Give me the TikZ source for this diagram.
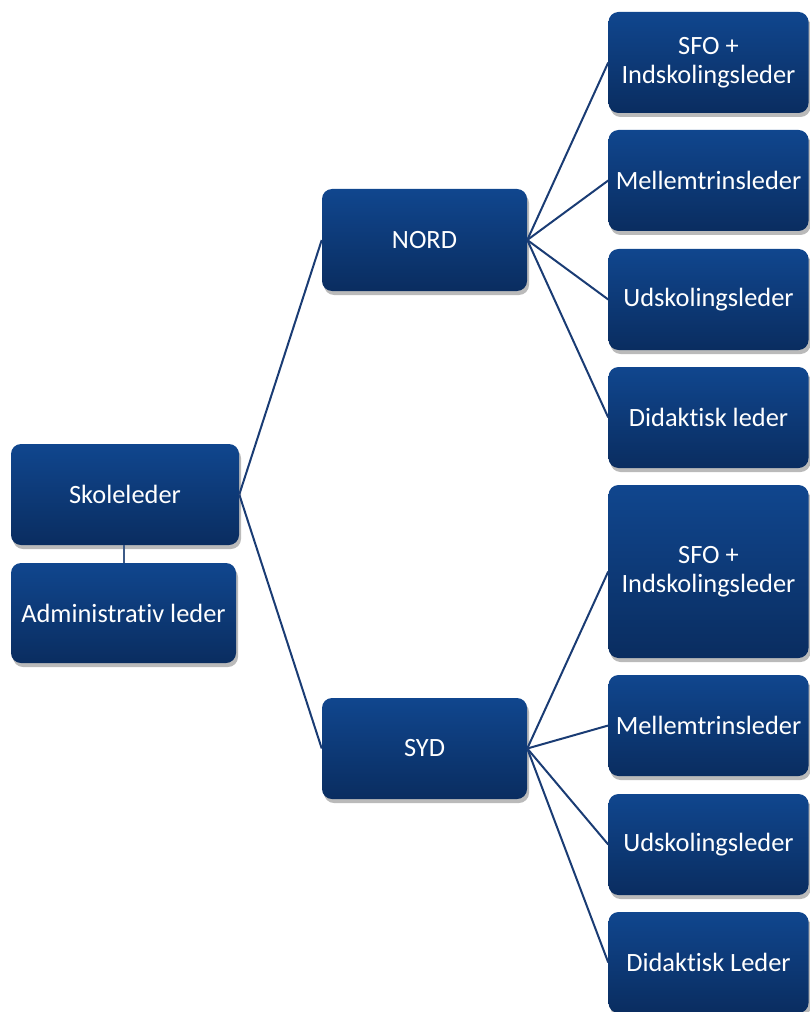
\documentclass[tikz,border=0pt]{standalone}
\usepackage{fontspec}
\setmainfont{Carlito}[RawFeature={-liga}]
\usepackage{xcolor}
\usepackage{tikz}
\usetikzlibrary{shadows,positioning,calc}

\definecolor{boxtop}{RGB}{16,70,142}
\definecolor{boxbot}{RGB}{10,45,96}
\definecolor{linkcol}{RGB}{26,60,116}
\definecolor{staffcol}{RGB}{60,90,135}

\tikzset{
    orgbox/.style={rounded corners=7.5pt, top color=boxtop, bottom color=boxbot,
        text=white, align=center, inner sep=2pt,
        font=\fontsize{19.8}{21.5}\selectfont,
        drop shadow={shadow xshift=1.5pt, shadow yshift=-3pt, fill=black!45, opacity=0.6}},
    leadbox/.style={orgbox, minimum width=150pt, minimum height=75.75pt},
    link/.style={linkcol, line width=1.5pt}
}

\begin{document}
\begin{tikzpicture}[x=0.75pt, y=-0.75pt]
        \useasboundingbox (0,0) rectangle (809,1012);

        % Top level
        \node[orgbox, minimum width=171pt, minimum height=75.75pt] (skole) at (125,494.5) {Skoleleder};
        \node[orgbox, minimum width=168.75pt, minimum height=75pt] (admin) at (123.5,613) {Administrativ leder};
        \draw[link, staffcol] (skole.south -| admin.north) -- (admin.north); % Staff link

        % Departments
        \node[orgbox, minimum width=153.75pt, minimum height=76.5pt] (nord) at (424.5,240) {NORD};
        \node[orgbox, minimum width=153.75pt, minimum height=75.75pt] (syd) at (424.5,748.5) {SYD};

        % NORD leaders
        \node[leadbox] (nsfo) at (708.5,62.5) {SFO +\\Indskolingsleder};
        \node[leadbox] (nmel) at (708.5,180.5) {Mellemtrinsleder};
        \node[leadbox] (nuds) at (708.5,299.5) {Udskolingsleder};
        \node[leadbox] (ndid) at (708.5,417.5) {Didaktisk leder};

        % SYD leaders
        \node[leadbox, minimum height=129.75pt] (ssfo) at (708.5,571.5) {SFO +\\Indskolingsleder};
        \node[leadbox] (smel) at (708.5,725.5) {Mellemtrinsleder};
        \node[leadbox] (suds) at (708.5,844.5) {Udskolingsleder};
        \node[leadbox] (sdid) at (708.5,962.5) {Didaktisk Leder};

        % Connectors
        \draw[link] (skole.east) -- (nord.west);
        \draw[link] (skole.east) -- (syd.west);
        \foreach \leader in {nsfo,nmel,nuds,ndid}
            \draw[link] (nord.east) -- (\leader.west);
        \foreach \leader in {ssfo,smel,suds,sdid}
            \draw[link] (syd.east) -- (\leader.west);
    \end{tikzpicture}
\end{document}
